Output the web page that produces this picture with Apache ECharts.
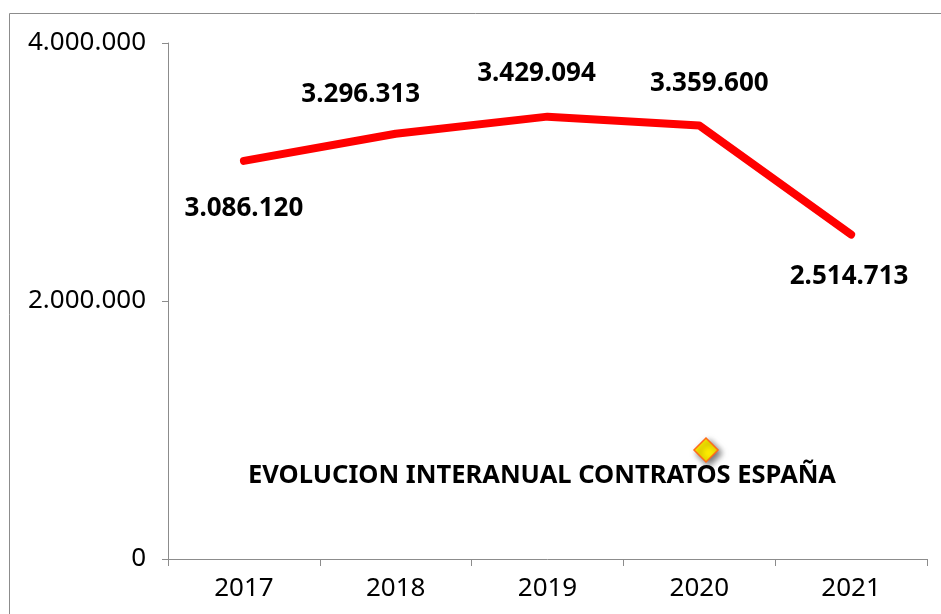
<!DOCTYPE html>
<html>
<head>
<meta charset="utf-8">
<script src="https://cdn.jsdelivr.net/npm/echarts@6/dist/echarts.min.js"></script>
<style>
  html, body { margin: 0; padding: 0; background: #fff; }
  #chart { width: 941px; height: 614px; }
</style>
</head>
<body>
<div id="chart"></div>
<script>
// Annual contract totals for Spain
const years = ['2017', '2018', '2019', '2020', '2021'];
const contracts = [3086120, 3296313, 3429094, 3359600, 2514713];
const labelSides = ['bottom', 'top', 'top', 'top', 'bottom'];
const labelNudges = [[0, -2], [-35, 1], [-11, -3], [10, -2], [-2, -8]];
const seriesName = 'EVOLUCION INTERANUAL CONTRATOS ESPAÑA';

const fmt = v => String(v).replace(/\B(?=(\d{3})+(?!\d))/g, '.');
const FONT = '"Noto Sans", "DejaVu Sans", sans-serif';

const chart = echarts.init(document.getElementById('chart'));
chart.setOption({
  animation: false,
  grid: { left: 168, top: 43, right: 14, bottom: 55 },
  title: {
    text: seriesName,
    left: 537, top: 458, textAlign: 'center',
    textStyle: { fontFamily: FONT, fontSize: 25.5, fontWeight: 'bold', color: '#000' }
  },
  graphic: [
    {
      type: 'rect', silent: true, z: -1,
      shape: { x: 9.5, y: 13.5, width: 940, height: 620 },
      style: { fill: 'none', stroke: '#8c8c8c', lineWidth: 1 }
    },
    {
      type: 'polygon', silent: true,
      shape: { points: [[706, 438], [718, 450], [706, 462], [694, 450]] },
      style: {
        fill: '#ffee00', stroke: '#ff6a1a', lineWidth: 1.5,
        shadowBlur: 6, shadowColor: 'rgba(0,0,0,0.55)', shadowOffsetX: 3, shadowOffsetY: 3
      }
    }
  ],
  xAxis: {
    type: 'category',
    data: years,
    boundaryGap: true,
    axisLine: { lineStyle: { color: '#8c8c8c', width: 1 } },
    axisTick: { show: true, length: 7, lineStyle: { color: '#8c8c8c' } },
    axisLabel: { fontFamily: FONT, fontSize: 26, color: '#000', margin: 17 },
    splitLine: { show: false }
  },
  yAxis: {
    type: 'value',
    min: 0, max: 4000000, interval: 2000000,
    axisLine: { show: true, lineStyle: { color: '#8c8c8c', width: 1 } },
    axisTick: { show: true, length: 6, lineStyle: { color: '#8c8c8c' } },
    axisLabel: { fontFamily: FONT, fontSize: 26, color: '#000', margin: 22, formatter: fmt },
    splitLine: { show: false }
  },
  series: [{
    name: seriesName,
    type: 'line',
    data: contracts.map((v, i) => ({
      value: v,
      label: {
        position: labelSides[i],
        distance: labelSides[i] === 'top' ? 24 : 34,
        offset: labelNudges[i]
      }
    })),
    showSymbol: true,
    symbol: 'circle',
    symbolSize: 6,
    itemStyle: { color: '#ff0000' },
    lineStyle: { color: '#ff0000', width: 8, cap: 'round', join: 'round' },
    label: {
      show: true,
      fontFamily: FONT, fontSize: 26, fontWeight: 'bold', color: '#000',
      formatter: p => fmt(p.value)
    }
  }]
});
</script>
</body>
</html>
